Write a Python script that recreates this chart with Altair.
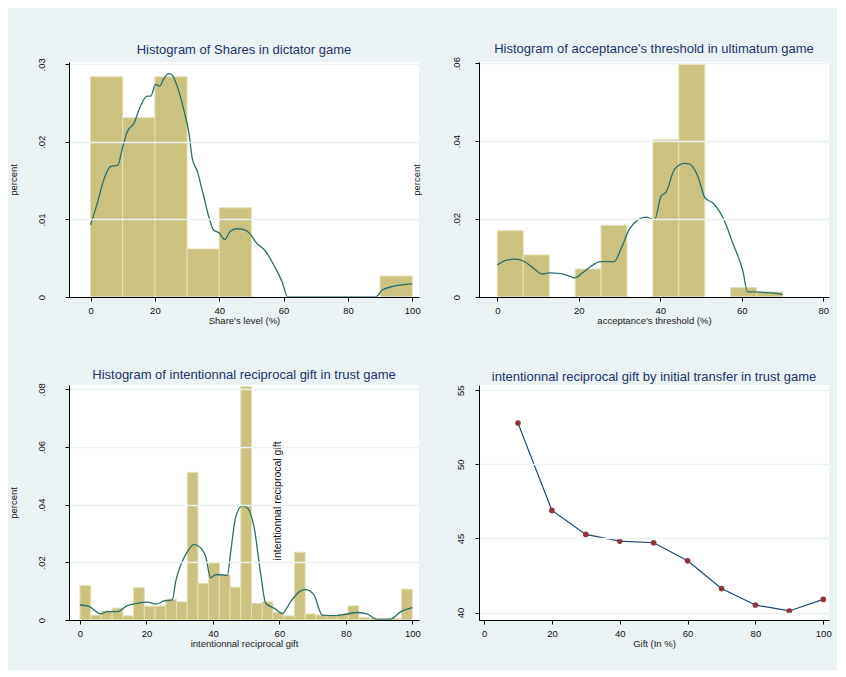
import altair as alt
import pandas as pd

FONT = "Liberation Sans"
TITLE_COLOR = "#24346a"
BAR_FILL = "#cac27e"
BAR_STROKE = "#e4dfb6"
KDE_COLOR = "#2b6f6b"
BG = "#eaf2f3"

# ---------------- Panel 1: dictator game shares ----------------
p1_bin_start = [0, 10, 20, 30, 40, 50, 60, 70, 80, 90]
p1_bin_end = [10, 20, 30, 40, 50, 60, 70, 80, 90, 100]
p1_density = [0.0284, 0.0231, 0.0284, 0.0062, 0.0115, 0, 0, 0, 0, 0.0027]
p1_kde_x = [0, 2.1, 4.1, 6.2, 8.5, 9.8, 11.4, 13.5, 15.5, 17.6, 18.7, 20.2, 21.5, 22.8,
            24.4, 25.4, 26.9, 29.0, 30.6, 31.6, 33.2, 34.7, 36.8, 38.3, 39.9, 41.7, 43.5,
            45.6, 47.7, 49.7, 51.3, 54.4, 57.0, 59.6, 61.3, 88.6, 90.7, 94.3, 100]
p1_kde_y = [0.0093, 0.0121, 0.0151, 0.0168, 0.0170, 0.0190, 0.0213, 0.0224, 0.0246, 0.0259,
            0.0259, 0.0274, 0.0272, 0.0282, 0.0288, 0.0286, 0.0272, 0.0241, 0.0211, 0.0179,
            0.0162, 0.0138, 0.0103, 0.0086, 0.0083, 0.0074, 0.0085, 0.0088, 0.0087, 0.0081,
            0.0071, 0.0059, 0.0041, 0.0019, 0.0, 0.0, 0.0009, 0.0014, 0.0017]

# ---------------- Panel 2: ultimatum acceptance threshold ----------------
p2_bin_start = [0, 6.36, 12.73, 19.09, 25.45, 31.82, 38.18, 44.55, 50.91, 57.27, 63.64]
p2_bin_end = [6.36, 12.73, 19.09, 25.45, 31.82, 38.18, 44.55, 50.91, 57.27, 63.64, 70]
p2_density = [0.0170, 0.0108, 0, 0.0072, 0.0184, 0, 0.0403, 0.0597, 0, 0.0024, 0.0013]
p2_kde_x = [0, 2.5, 4.5, 6.6, 8.6, 11.1, 12.7, 15.6, 17.6, 19.0, 20.9, 23.0, 25.4, 28.7,
            30.4, 32.4, 34.5, 36.5, 38.6, 40.2, 41.4, 43.5, 45.9, 47.2, 49.2, 51.0, 52.9,
            55.4, 57.8, 60.3, 61.4, 63.2, 66.4, 70.0]
p2_kde_y = [0.0082, 0.0095, 0.0097, 0.0091, 0.0076, 0.0059, 0.0062, 0.0060, 0.0054, 0.0049,
            0.0062, 0.0079, 0.0091, 0.0091, 0.0125, 0.0174, 0.0198, 0.0205, 0.0198, 0.0259,
            0.0269, 0.0328, 0.0343, 0.0341, 0.0310, 0.0254, 0.0241, 0.0203, 0.0138, 0.0065,
            0.0013, 0.0013, 0.0011, 0.0007]

# ---------------- Panel 3: trust game reciprocal gift ----------------
p3_bin_start = [0, 3.23, 6.45, 9.68, 12.90, 16.13, 19.35, 22.58, 25.81, 29.03, 32.26,
                35.48, 38.71, 41.94, 45.16, 48.39, 51.61, 54.84, 58.06, 61.29, 64.52,
                67.74, 70.97, 74.19, 77.42, 80.65, 83.87, 87.10, 90.32, 93.55, 96.77]
p3_bin_end = p3_bin_start[1:] + [100]
p3_density = [0.0119, 0.0017, 0.0031, 0.0041, 0.0014, 0.0112, 0.0048, 0.0048, 0.0072,
              0.0063, 0.0512, 0.0127, 0.0200, 0.0157, 0.0114, 0.0809, 0.0058, 0.0063,
              0.0026, 0.0014, 0.0235, 0.0021, 0.0017, 0.0012, 0.0020, 0.0049, 0.0009,
              0.0006, 0.0006, 0.0006, 0.0107]
p3_kde_x = [0, 2.7, 6.2, 8.2, 11.2, 14.2, 17.3, 20.3, 22.8, 25.3, 27.8, 28.8, 30.8, 32.8,
            34.3, 36.3, 37.8, 39.3, 40.8, 42.3, 44.3, 45.5, 46.8, 48.8, 50.4, 52.4, 54.4,
            55.9, 58.4, 60.9, 63.4, 66.4, 67.9, 70.4, 72.9, 76.4, 79.9, 83.5, 86.5, 89.5,
            93.5, 96.5, 100]
p3_kde_y = [0.0052, 0.0047, 0.0021, 0.0029, 0.0029, 0.0050, 0.0058, 0.0062, 0.0055, 0.0066,
            0.0070, 0.0134, 0.0204, 0.0245, 0.0262, 0.0250, 0.0221, 0.0146, 0.0157, 0.0157,
            0.0154, 0.0250, 0.0355, 0.0396, 0.0388, 0.0320, 0.0157, 0.0058, 0.0041, 0.0023,
            0.0064, 0.0101, 0.0105, 0.0087, 0.0017, 0.0015, 0.0020, 0.0026, 0.0020, 0.0002,
            0.0003, 0.0029, 0.0043]
p3_note = ["intentionnal reciprocal gift"]
p3_note_x = [59.6]
p3_note_y = [0.0413]

# ---------------- Panel 4: reciprocal gift by initial transfer ----------------
p4_gift = [10, 20, 30, 40, 50, 60, 70, 80, 90, 100]
p4_recip = [52.78, 46.89, 45.27, 44.82, 44.71, 43.49, 41.62, 40.51, 40.11, 40.89]

W, H = 350, 235

PCT_EXPR = "datum.value == 0 ? '0' : slice(format(datum.value, '.2f'), 1)"


def ttl(text):
    return alt.TitleParams(text=text, fontSize=13, font=FONT, color=TITLE_COLOR,
                           fontWeight="normal", frame="group", baseline="alphabetic",
                           offset=-9, anchor="middle")


def xaxis(title, values):
    return alt.Axis(title=title, values=values, grid=False, domainColor="#000",
                    tickColor="#000", tickSize=4, labelPadding=4, labelFontSize=9.5,
                    labelFont=FONT, labelColor="#111", titleFont=FONT,
                    titleFontSize=9.5, titleFontWeight="normal", titleColor="#222",
                    titleBaseline="alphabetic", titleY=26, zindex=1)


def yaxis(title, values, expr, lab_pad, title_x):
    kw = dict(values=values, grid=True, gridColor=BG, gridWidth=1.5,
              domainColor="#000", tickColor="#000", tickSize=4,
              labelAngle=270, labelAlign="center", labelBaseline="alphabetic",
              labelPadding=lab_pad, labelFontSize=9.5, labelFont=FONT,
              labelColor="#111", zindex=1)
    if expr:
        kw["labelExpr"] = expr
    if title:
        kw.update(title=title, titleFont=FONT, titleFontSize=9.5,
                  titleFontWeight="normal", titleColor="#222", titleAngle=270,
                  titleBaseline="alphabetic", titleAlign="center", titleX=title_x,
                  titleY=H / 2)
    else:
        kw["title"] = None
    return alt.Axis(**kw)


def hist_panel(starts, ends, dens, kx, ky, xtitle, xdom, xticks, ydom, yticks,
               lab_pad, title_x, ytitle="percent"):
    bars = pd.DataFrame({"b0": starts, "b1": ends, "d": dens})
    bars = bars[bars["d"] > 0]
    kde = pd.DataFrame({"x": kx, "y": ky})
    xs = alt.Scale(domain=xdom, nice=False, zero=False)
    ys = alt.Scale(domain=ydom, nice=False, zero=False)
    b = alt.Chart(bars).mark_rect(fill=BAR_FILL, stroke=BAR_STROKE, strokeWidth=1).encode(
        x=alt.X("b0:Q", scale=xs, axis=xaxis(xtitle, xticks)),
        x2="b1",
        y=alt.Y("d:Q", scale=ys, axis=yaxis(ytitle, yticks, PCT_EXPR, lab_pad, title_x)),
        y2=alt.datum(0),
    )
    l = alt.Chart(kde).mark_line(color=KDE_COLOR, strokeWidth=1.3,
                                 interpolate="monotone").encode(
        x=alt.X("x:Q", scale=xs), y=alt.Y("y:Q", scale=ys))
    return b, l


b1, l1 = hist_panel(p1_bin_start, p1_bin_end, p1_density, p1_kde_x, p1_kde_y,
                    "Share's level (%)",
                    [-6.7, 102.1], [0, 20, 40, 60, 80, 100], [0, 0.0303],
                    [0, 0.01, 0.02, 0.03], 21, -53)
panel1 = alt.layer(b1, l1).properties(width=W, height=H,
                                      title=ttl("Histogram of Shares in dictator game"))

b2, l2 = hist_panel(p2_bin_start, p2_bin_end, p2_density, p2_kde_x, p2_kde_y,
                    "acceptance's threshold (%)",
                    [-4.5, 81.4], [0, 20, 40, 60, 80], [0, 0.0603],
                    [0, 0.02, 0.04, 0.06], 16, -60)
panel2 = alt.layer(b2, l2).properties(
    width=W, height=H,
    title=ttl("Histogram of acceptance's threshold in ultimatum game"))

b3, l3 = hist_panel(p3_bin_start, p3_bin_end, p3_density, p3_kde_x, p3_kde_y,
                    "intentionnal reciprocal gift",
                    [-3.3, 102.0], [0, 20, 40, 60, 80, 100], [0, 0.0815],
                    [0, 0.02, 0.04, 0.06, 0.08], 21, -53)
note_df = pd.DataFrame({"t": p3_note, "x": p3_note_x, "y": p3_note_y})
t3 = alt.Chart(note_df).mark_text(angle=270, font=FONT, fontSize=10.5, color="#111",
                                  align="center", baseline="middle").encode(
    x=alt.X("x:Q", scale=alt.Scale(domain=[-3.3, 102.0], nice=False)),
    y=alt.Y("y:Q", scale=alt.Scale(domain=[0, 0.0815], nice=False)),
    text="t:N")
panel3 = alt.layer(b3, l3, t3).properties(
    width=W, height=H,
    title=ttl("Histogram of intentionnal reciprocal gift in trust game"))

p4_df = pd.DataFrame({"g": p4_gift, "r": p4_recip})
xs4 = alt.Scale(domain=[-1.5, 101.7], nice=False, zero=False)
ys4 = alt.Scale(domain=[39.5, 55.35], nice=False, zero=False)
line4 = alt.Chart(p4_df).mark_line(color="#1a476f", strokeWidth=1.2).encode(
    x=alt.X("g:Q", scale=xs4, axis=xaxis("Gift (In %)", [0, 20, 40, 60, 80, 100])),
    y=alt.Y("r:Q", scale=ys4, axis=yaxis(None, [40, 45, 50, 55], None, 12, 0)),
)
pts4 = alt.Chart(p4_df).mark_point(filled=True, color="#90353b", size=32, opacity=1).encode(
    x=alt.X("g:Q", scale=xs4), y=alt.Y("r:Q", scale=ys4))
panel4 = alt.layer(line4, pts4).properties(
    width=W, height=H,
    title=ttl("intentionnal reciprocal gift by initial transfer in trust game"))

chart = alt.concat(panel1, panel2, panel3, panel4, columns=2,
                   spacing={"row": 88, "column": 60}, bounds="flush").properties(
    background=BG,
    padding={"left": 0, "top": 34, "right": 5, "bottom": 22},
).configure_view(fill="white", stroke=None)

chart.save("out.html", embed_options={"renderer": "svg", "actions": False})
